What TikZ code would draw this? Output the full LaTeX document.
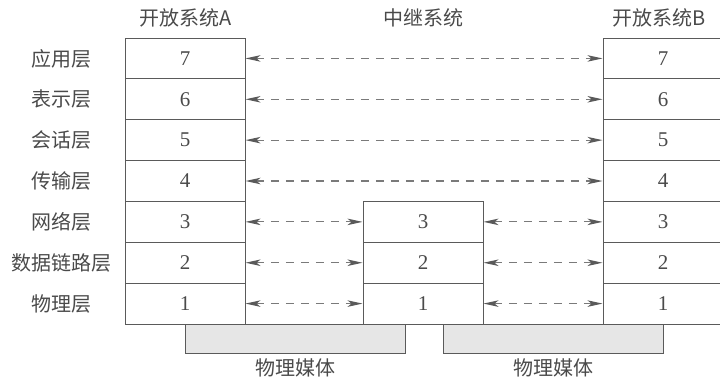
\documentclass[tikz,border=0pt]{standalone}
\usepackage{fontspec}
\setmainfont{Liberation Serif}
\newfontfamily\cjk{Noto Sans CJK SC}
\usetikzlibrary{arrows.meta}
\definecolor{ln}{HTML}{5A5A5A}
\definecolor{dl}{HTML}{7A7A7A}
\definecolor{tx}{HTML}{4A4A4A}
\definecolor{md}{HTML}{E6E6E6}
\begin{document}
\begin{tikzpicture}[x=1pt,y=-1pt,
  cell/.style={draw=ln,line width=1pt,minimum width=120pt,minimum height=40.86pt,inner sep=0pt,
    font=\fontsize{21}{22}\selectfont,text=tx},
  lab/.style={font=\cjk\fontsize{20}{22}\selectfont,text=tx,inner sep=0pt},
  conn/.style={draw=dl,line width=1.2pt,dash pattern=on 8pt off 7pt,
    {Stealth[length=15pt,width=6.5pt,inset=4pt,fill=ln,color=ln]}-{Stealth[length=15pt,width=6.5pt,inset=4pt,fill=ln,color=ln]}},
  media/.style={draw=ln,line width=1pt,fill=md}]
\useasboundingbox (0,0) rectangle (720,380);
% layer centres
\foreach \k/\nm in {7/应用层,6/表示层,5/会话层,4/传输层,3/网络层,2/数据链路层,1/物理层}{
  \pgfmathsetmacro{\yy}{38+(7-\k)*40.86+20.43}
  \node[cell] (A\k) at (185,\yy) {\k};
  \node[cell] (B\k) at (663,\yy) {\k};
  \node[lab] (L\k) at (61,\yy) {\nm};
}
\foreach \k in {3,2,1}{
  \pgfmathsetmacro{\yy}{38+(7-\k)*40.86+20.43}
  \node[cell] (R\k) at (423,\yy) {\k};
}
\foreach \k in {7,6,5,4}{
  \draw[conn] (A\k.east) -- (B\k.west);
}
\foreach \k in {3,2,1}{
  \draw[conn] (A\k.east) -- (R\k.west);
  \draw[conn] (R\k.east) -- (B\k.west);
}
% media
\node[media,minimum width=220pt,minimum height=29pt,inner sep=0pt,anchor=north] (M1) at (295,324) {};
\node[media,minimum width=220pt,minimum height=29pt,inner sep=0pt,anchor=north] (M2) at (553,324) {};
\node[lab] (ML1) at (295,368) {物理媒体};
\node[lab] (ML2) at (553,368) {物理媒体};
% titles
\node[lab] (TA) at (186,18) {开放系统A};
\node[lab] (TR) at (423,18) {中继系统};
\node[lab] (TB) at (659,18) {开放系统B};
\end{tikzpicture}
\end{document}
